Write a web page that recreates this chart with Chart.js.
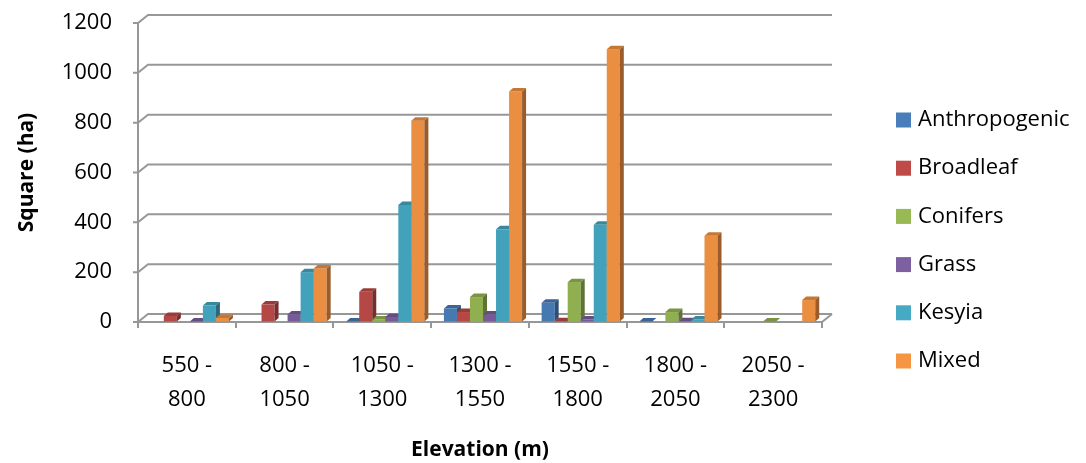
<!DOCTYPE html>
<html>
<head>
<meta charset="utf-8">
<script src="https://cdn.jsdelivr.net/npm/chart.js@4.4.1/dist/chart.umd.min.js"></script>
<style>
  html, body { margin: 0; padding: 0; background: #fff; }
  #wrap { width: 1086px; height: 463px; }
</style>
</head>
<body>
<div id="wrap"><canvas id="chart" width="1086" height="463"></canvas></div>
<script>
// elevation bands (two-line tick labels)
const elevationBands = [
    ['550 -', '800'], ['800 -', '1050'], ['1050 -', '1300'], ['1300 -', '1550'],
    ['1550 -', '1800'], ['1800 -', '2050'], ['2050 -', '2300']
];
const seriesNames = ['Anthropogenic', 'Broadleaf', 'Conifers', 'Grass', 'Kesyia', 'Mixed'];

// area in ha
const anthropogenic = [0, 0, 2, 54, 77, 2, 0];
const broadleaf = [24, 70, 121, 40, 3, 0, 0];
const conifers = [0, 0, 10, 100, 160, 40, 2];
const grass = [2, 30, 20, 30, 10, 3, 0];
const kesyia = [66, 200, 470, 372, 390, 10, 0];
const mixed = [16, 215, 808, 925, 1095, 346, 88];

const yTicks = [0, 200, 400, 600, 800, 1000, 1200];

const seriesColors = ['#4A7EBB', '#BE4B48', '#98B954', '#7D60A0', '#46AAC5', '#F69544'];

const FONT = '"Open Sans", "Noto Sans", sans-serif';
const GRID = '#979797';
const WALL_DX = 10, WALL_DY = 8;   // back wall offset
const BAR_DX = 4, BAR_DY = 3.5;    // bar depth
const BAR_SHIFT = 3;

function shade(hex, f) {
    const n = parseInt(hex.slice(1), 16);
    const c = [(n >> 16) & 255, (n >> 8) & 255, n & 255].map(v => Math.max(0, Math.min(255, Math.round(v * f))));
    return 'rgb(' + c.join(',') + ')';
}

const bars3d = {
    id: 'bars3d',
    beforeDatasetsDraw(chart) {
        const {ctx, chartArea: a, scales: {y}} = chart;
        ctx.save();
        ctx.strokeStyle = GRID;
        ctx.lineWidth = 2;
        yTicks.forEach(v => {
            const py = y.getPixelForValue(v);
            ctx.beginPath();
            ctx.moveTo(a.left - 5, py);   // tick mark
            ctx.lineTo(a.left, py);
            ctx.lineTo(a.left + WALL_DX, py - WALL_DY);
            ctx.lineTo(a.right + WALL_DX, py - WALL_DY);
            ctx.stroke();
        });
        // floor right edge
        const p0 = y.getPixelForValue(0);
        ctx.beginPath();
        ctx.moveTo(a.right, p0);
        ctx.lineTo(a.right + WALL_DX, p0 - WALL_DY);
        ctx.stroke();
        ctx.restore();
    },
    beforeDatasetDraw() {
        return false;
    },
    afterDatasetsDraw(chart) {
        const ctx = chart.ctx;
        const metas = chart.data.datasets.map((d, i) => chart.getDatasetMeta(i));
        ctx.save();
        for (let j = 0; j < elevationBands.length; j++) {
            metas.forEach((meta, i) => {
                const v = chart.data.datasets[i].data[j];
                if (!v) return;
                const el = meta.data[j];
                const col = seriesColors[i];
                const x0 = el.x - el.width / 2 + BAR_SHIFT;
                const x1 = el.x + el.width / 2 + BAR_SHIFT;
                const top = el.y, base = el.base;
                ctx.fillStyle = shade(col, 0.95);
                ctx.fillRect(x0, top, x1 - x0, base - top);
                ctx.fillStyle = shade(col, 0.8);
                ctx.beginPath();
                ctx.moveTo(x0, top);
                ctx.lineTo(x1, top);
                ctx.lineTo(x1 + BAR_DX, top - BAR_DY);
                ctx.lineTo(x0 + BAR_DX, top - BAR_DY);
                ctx.closePath();
                ctx.fill();
                ctx.fillStyle = shade(col, 0.62);
                ctx.beginPath();
                ctx.moveTo(x1, top);
                ctx.lineTo(x1 + BAR_DX, top - BAR_DY);
                ctx.lineTo(x1 + BAR_DX, base - BAR_DY);
                ctx.lineTo(x1, base);
                ctx.closePath();
                ctx.fill();
            });
        }
        ctx.restore();
    },
    afterDraw(chart) {
        // legend on the right
        const ctx = chart.ctx;
        ctx.save();
        ctx.font = '22px ' + FONT;
        ctx.textBaseline = 'middle';
        ctx.textAlign = 'left';
        seriesNames.forEach((name, i) => {
            const cy = 120 + i * 48.2;
            ctx.fillStyle = seriesColors[i];
            ctx.fillRect(896, cy - 7.5, 15, 15);
            ctx.fillStyle = '#000';
            ctx.fillText(name, 918, cy);
        });
        ctx.restore();
    }
};

const seriesData = [anthropogenic, broadleaf, conifers, grass, kesyia, mixed];

new Chart(document.getElementById('chart'), {
    type: 'bar',
    data: {
        labels: elevationBands,
        datasets: seriesNames.map((name, i) => ({
            label: name,
            data: seriesData[i],
            backgroundColor: seriesColors[i],
            borderWidth: 0,
            categoryPercentage: 0.8,
            barPercentage: 1
        }))
    },
    options: {
        responsive: false,
        animation: false,
        layout: { padding: { top: 23, right: 264, left: 0, bottom: 0 } },
        plugins: { legend: { display: false }, tooltip: { enabled: false } },
        scales: {
            x: {
                grid: { drawOnChartArea: false, color: GRID, lineWidth: 2, tickLength: 6 },
                border: { color: GRID, width: 2 },
                ticks: {
                    color: '#000', maxRotation: 0, autoSkip: false, padding: 21,
                    font: { family: FONT, size: 22, lineHeight: 1.55 }
                },
                title: {
                    display: true, text: 'Elevation (m)', color: '#000',
                    font: { family: FONT, size: 21, weight: 'bold' },
                    padding: { top: 0, bottom: 0 }
                },
                afterFit: s => { s.height = 463 - 322; }
            },
            y: {
                min: 0, max: 1200,
                ticks: {
                    stepSize: 200, color: '#000', padding: 0,
                    font: { family: FONT, size: 22 },
                    callback: v => String(v)
                },
                // tick marks are drawn by the plugin; the long tick length only spaces the labels
                grid: { drawOnChartArea: false, tickColor: 'rgba(0,0,0,0)', tickLength: 26 },
                border: { color: GRID, width: 2 },
                title: {
                    display: true, text: 'Square (ha)', color: '#000',
                    font: { family: FONT, size: 21, weight: 'bold' },
                    padding: { top: 14, bottom: 0 }
                },
                afterFit: s => { s.width = 138; }
            }
        }
    },
    plugins: [bars3d]
});
</script>
</body>
</html>
